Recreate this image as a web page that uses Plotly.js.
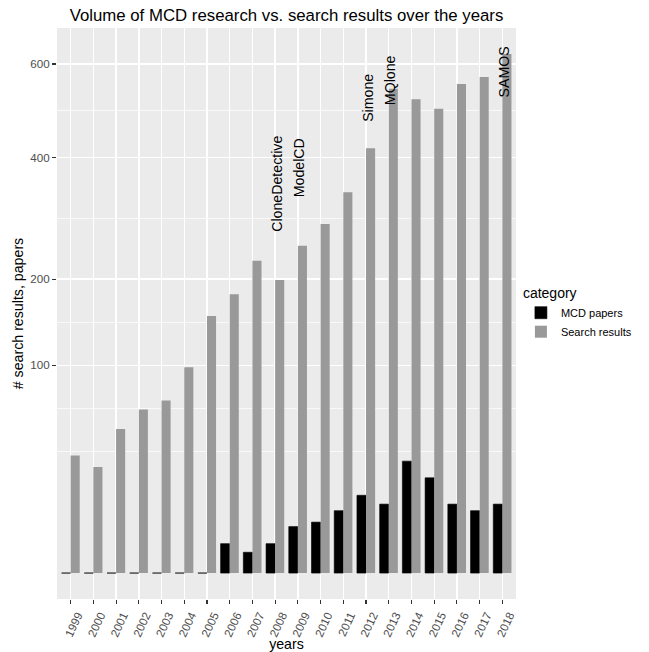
<!DOCTYPE html>
<html>
<head>
<meta charset="utf-8">
<script src="https://cdn.plot.ly/plotly-3.0.1.min.js"></script>
<style>
html,body{margin:0;padding:0;background:#ffffff;}
#chart{width:649px;height:652px;}
</style>
</head>
<body>
<div id="chart"></div>
<script>
// ---- data ----
const years = ['1999','2000','2001','2002','2003','2004','2005','2006','2007','2008',
               '2009','2010','2011','2012','2013','2014','2015','2016','2017','2018'];
const mcdPapers = [0,0,0,0,0,0,0,2,1,2,5,6,9,14,11,29,21,11,9,11];
const searchResults = [32,26,48,62,69,98,153,180,226,199,248,282,336,418,543,520,499,554,570,624];
const seriesNames = ['MCD papers','Search results'];
const yTickValues = [100,200,400,600];
const yTickLabels = ['100','200','400','600'];
const toolYears = ['2008','2009','2012','2013','2018'];
const toolNames = ['CloneDetective','ModelCD','Simone','MQlone','SAMOS'];
const toolLabelY = [351,381,523,562,581];

// ---- square-root scale helpers (like scale_y_sqrt) ----
const sq = v => Math.sqrt(v);
const maxS = Math.sqrt(Math.max(...mcdPapers, ...searchResults));
const pad = 0.05 * maxS;
const yRange = [-pad, maxS + pad];
const majors = yTickValues.map(sq);
// ggplot-style minor breaks in transformed space
const b = majors.slice();
const bd = b[1] - b[0];
if (yRange[0] < b[0]) b.unshift(b[0] - bd);
if (yRange[1] > b[b.length - 1]) b.push(b[b.length - 1] + bd);
const minorVals = [];
for (let i = 0; i < b.length - 1; i++) { minorVals.push(b[i]); minorVals.push((b[i] + b[i + 1]) / 2); }
minorVals.push(b[b.length - 1]);
const minorOnly = minorVals.filter(v => !majors.some(m => Math.abs(m - v) < 1e-6) && v > yRange[0] && v < yRange[1]);

const FONT = '"Liberation Sans", Arial, Helvetica, sans-serif';

const traces = [
  {
    type: 'bar', name: seriesNames[0], x: years, y: mcdPapers.map(sq),
    marker: {color: '#000000', line: {color: '#000000', width: 0.6}},
    hoverinfo: 'skip'
  },
  {
    type: 'bar', name: seriesNames[1], x: years, y: searchResults.map(sq),
    marker: {color: '#999999', line: {width: 0}},
    hoverinfo: 'skip'
  }
];

const annotations = toolNames.map((t, i) => ({
  x: years.indexOf(toolYears[i]), y: sq(toolLabelY[i]), xref: 'x', yref: 'y',
  text: t, showarrow: false, textangle: -90,
  xanchor: 'center', yanchor: 'middle', xshift: 2,
  font: {family: FONT, size: 14.2, color: '#000000'}
}));

const layout = {
  width: 649, height: 652,
  paper_bgcolor: '#ffffff', plot_bgcolor: '#EBEBEB',
  margin: {l: 57, r: 126, t: 28, b: 53, pad: 0},
  font: {family: FONT, color: '#000000'},
  title: {
    text: 'Volume of MCD research vs. search results over the years',
    x: 0.5, xref: 'paper', xanchor: 'center',
    y: 1 - 15 / 652, yref: 'container', yanchor: 'middle',
    font: {family: FONT, size: 16.8, color: '#000000'}
  },
  barmode: 'group', bargap: 0.2, bargroupgap: 0,
  xaxis: {
    type: 'category', range: [-0.6, years.length - 0.4], autorange: false,
    showgrid: true, gridcolor: '#FFFFFF', gridwidth: 1.4,
    zeroline: false, showline: false,
    ticks: 'outside', ticklen: 4, tickwidth: 1.1, tickcolor: '#333333',
    tickangle: -65, ticklabelshift: 7,
    tickfont: {family: FONT, size: 11.6, color: '#4D4D4D'},
    title: {text: 'years', standoff: 5, font: {family: FONT, size: 14.2, color: '#000000'}},
    fixedrange: true
  },
  yaxis: {
    range: yRange, autorange: false,
    tickmode: 'array', tickvals: majors, ticktext: yTickLabels,
    showgrid: true, gridcolor: '#FFFFFF', gridwidth: 1.4,
    minor: {tickmode: 'array', tickvals: minorOnly, showgrid: true, gridcolor: '#FFFFFF', gridwidth: 0.7, ticks: ''},
    zeroline: false, showline: false,
    ticks: 'outside', ticklen: 4, tickwidth: 1.1, tickcolor: '#333333',
    tickfont: {family: FONT, size: 11.6, color: '#4D4D4D'},
    title: {text: '# search results, papers', standoff: 3, font: {family: FONT, size: 14.2, color: '#000000'}},
    fixedrange: true
  },
  showlegend: true,
  legend: {
    x: 1.0107, xanchor: 'left', y: 0.5, yanchor: 'middle',
    bgcolor: 'rgba(0,0,0,0)', borderwidth: 0,
    title: {text: 'category', font: {family: FONT, size: 14, color: '#000000'}},
    font: {family: FONT, size: 11, color: '#000000'},
    traceorder: 'normal'
  },
  annotations: annotations
};

Plotly.newPlot('chart', traces, layout, {displayModeBar: false, staticPlot: true});
</script>
</body>
</html>
